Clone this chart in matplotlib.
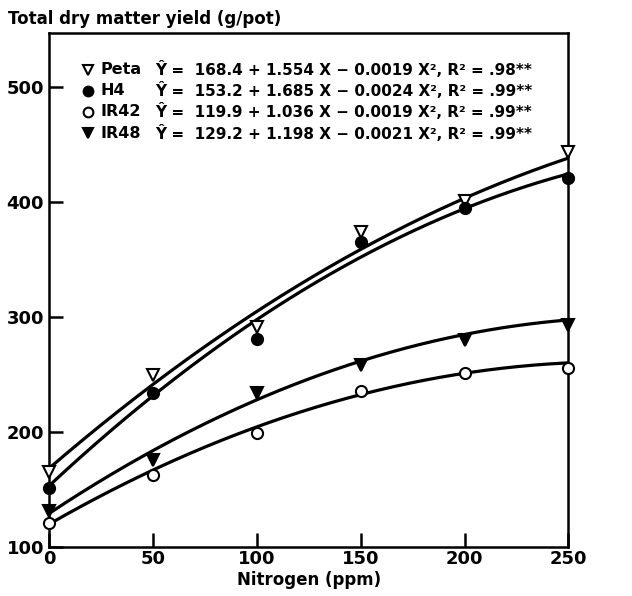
import numpy as np
import matplotlib
matplotlib.use("Agg")
import matplotlib.pyplot as plt

plt.rcParams['font.family'] = ['DejaVu Sans']

nitrogen = [0, 50, 100, 150, 200, 250]
varieties = ["Peta", "H4", "IR42", "IR48"]
peta = [165, 250, 291, 374, 401, 443]
h4 = [151, 234, 281, 365, 395, 421]
ir42 = [121, 163, 199, 236, 251, 256]
ir48 = [131, 176, 234, 258, 280, 293]
# fitted quadratic coefficients (a, b, c) from the legend equations
coef_peta = [168.4, 1.554, -0.0019]
coef_h4 = [153.2, 1.685, -0.0024]
coef_ir42 = [119.9, 1.036, -0.0019]
coef_ir48 = [129.2, 1.198, -0.0021]
equations = [
    "Ŷ =  168.4 + 1.554 X − 0.0019 X², R² = .98**",
    "Ŷ =  153.2 + 1.685 X − 0.0024 X², R² = .99**",
    "Ŷ =  119.9 + 1.036 X − 0.0019 X², R² = .99**",
    "Ŷ =  129.2 + 1.198 X − 0.0021 X², R² = .99**",
]
xticks = [0, 50, 100, 150, 200, 250]
yticks = [100, 200, 300, 400, 500]

fig = plt.figure(figsize=(6.32, 5.96), dpi=100)
ax = fig.add_axes([0.0775, 0.082, 0.822, 0.863])

series = [peta, h4, ir42, ir48]
coefs = [coef_peta, coef_h4, coef_ir42, coef_ir48]
mk = [dict(marker='v', mfc='white', mec='black', ms=8, mew=1.5),
      dict(marker='o', mfc='black', mec='black', ms=8, mew=1.5),
      dict(marker='o', mfc='white', mec='black', ms=8, mew=1.5),
      dict(marker='v', mfc='black', mec='black', ms=9, mew=1.5)]

xs = np.linspace(0, 250, 300)
for ys, c, m in zip(series, coefs, mk):
    ax.plot(xs, c[0] + c[1] * xs + c[2] * xs ** 2, color='black', lw=2.3, zorder=2)
    ax.plot(nitrogen, ys, ls='none', zorder=3, clip_on=False, **m)

ax.set_xlim(0, 250)
ax.set_ylim(100, 547)
ax.set_xticks(xticks)
ax.set_yticks(yticks)
ax.tick_params(direction='in', length=10, width=1.8, labelsize=13)
ax.tick_params(axis='x', pad=2)
for lab in ax.get_xticklabels() + ax.get_yticklabels():
    lab.set_fontweight('bold')
for s in ax.spines.values():
    s.set_linewidth(1.8)

ax.set_xlabel("Nitrogen (ppm)", fontsize=12, fontweight='bold', labelpad=2)
fig.text(0.013, 0.968, "Total dry matter yield (g/pot)", fontsize=12,
         fontweight='bold', ha='left', va='center')

# legend block
row_y = [0.928, 0.887, 0.846, 0.805]
for i, (name, eq, m) in enumerate(zip(varieties, equations, mk)):
    y = row_y[i]
    mm = dict(m)
    mm['ms'] = 7
    ax.plot([0.075], [y], transform=ax.transAxes, ls='none', clip_on=False, **mm)
    ax.text(0.099, y, name, transform=ax.transAxes, fontsize=11.5,
            fontweight='bold', va='center', ha='left')
    ax.text(0.205, y, eq, transform=ax.transAxes, fontsize=11,
            fontweight='bold', va='center', ha='left')

fig.savefig("out.png", dpi=100)
